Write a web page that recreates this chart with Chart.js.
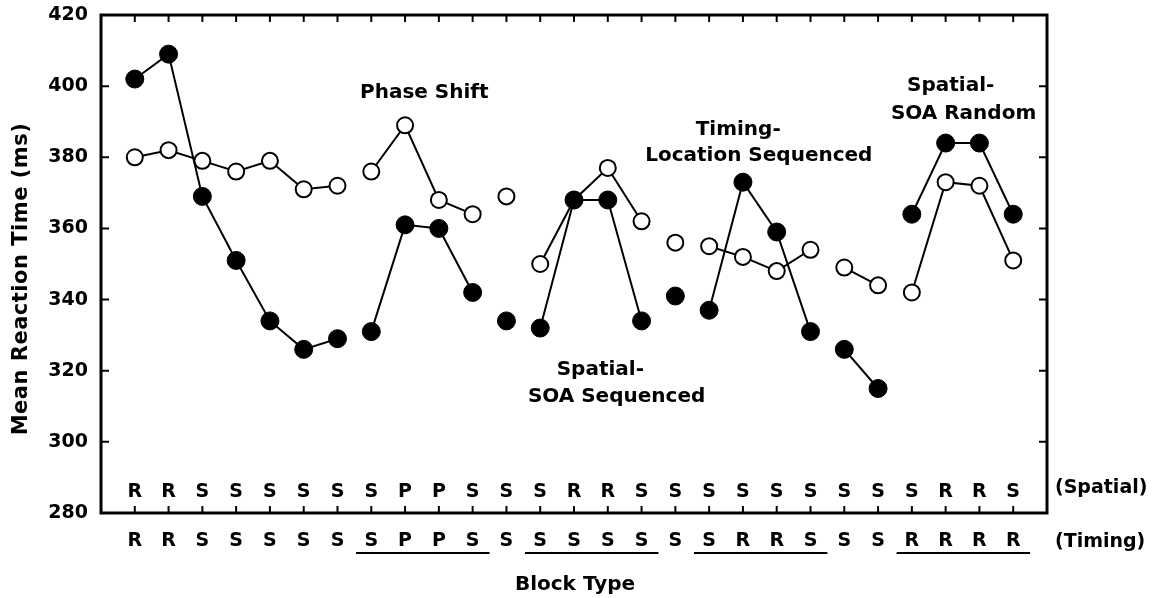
<!DOCTYPE html>
<html><head><meta charset="utf-8">
<script src="https://cdn.jsdelivr.net/npm/chart.js@4.4.1/dist/chart.umd.min.js"></script>
<style>html,body{margin:0;padding:0;background:#fff}#wrap{width:1153px;height:598px;position:relative}</style>
</head><body><div id="wrap"><canvas id="c"></canvas></div>
<script>
// ---- data ----
const blockIndex = [0,1,2,3,4,5,6,7,8,9,10,11,12,13,14,15,16,17,18,19,20,21,22,23,24,25,26];
const spatialLabels = ['R','R','S','S','S','S','S','S','P','P','S','S','S','R','R','S','S','S','S','S','S','S','S','S','R','R','S'];
const timingLabels  = ['R','R','S','S','S','S','S','S','P','P','S','S','S','S','S','S','S','S','R','R','S','S','S','R','R','R','R'];
const blockGroup    = [0,0,0,0,0,0,0,1,1,1,1,2,3,3,3,3,4,5,5,5,5,6,6,7,7,7,7];
const filledRT = [402,409,369,351,334,326,329,331,361,360,342,334,332,368,368,334,341,337,373,359,331,326,315,364,384,384,364];
const openRT   = [380,382,379,376,379,371,372,376,389,368,364,369,350,368,377,362,356,355,352,348,354,349,344,342,373,372,351];
const underlineGroups = [[7,10],[12,15],[17,20],[23,26]];
const annotationTexts = ['Phase Shift','Timing-','Location Sequenced','Spatial-','SOA Random','Spatial-','SOA Sequenced'];
const annotationX = [8.57, 17.86, 18.47, 24.15, 24.53, 13.78, 14.26];
const annotationY = [396.7, 386.3, 379.0, 398.6, 390.8, 318.8, 311.2];
const yTitle = 'Mean Reaction Time (ms)';
const xTitle = 'Block Type';
const rowNames = ['(Spatial)','(Timing)'];

const FONT = "'DejaVu Sans', sans-serif";
Chart.defaults.font.family = FONT;
Chart.defaults.color = '#000';

const segColor = ctx => blockGroup[ctx.p0DataIndex] === blockGroup[ctx.p1DataIndex] ? '#000' : 'rgba(0,0,0,0)';

const decor = {
  id: 'decor',
  afterDraw(chart) {
    const ctx = chart.ctx, a = chart.chartArea;
    const xs = chart.scales.x, ys = chart.scales.y;
    ctx.save();
    ctx.strokeStyle = '#000';
    // frame
    ctx.lineWidth = 3;
    ctx.strokeRect(a.left, a.top, a.right - a.left, a.bottom - a.top);
    // inward ticks
    ctx.lineWidth = 2;
    ctx.beginPath();
    blockIndex.forEach(i => {
      const px = xs.getPixelForValue(i);
      ctx.moveTo(px, a.top); ctx.lineTo(px, a.top + 7);
      ctx.moveTo(px, a.bottom); ctx.lineTo(px, a.bottom - 7);
    });
    ys.ticks.forEach(t => {
      if (t.value <= ys.min || t.value >= ys.max) return;
      const py = ys.getPixelForValue(t.value);
      ctx.moveTo(a.left, py); ctx.lineTo(a.left + 8, py);
      ctx.moveTo(a.right, py); ctx.lineTo(a.right - 8, py);
    });
    ctx.stroke();
    // spatial row labels inside plot
    ctx.fillStyle = '#000';
    ctx.font = 'bold 19px ' + FONT;
    ctx.textAlign = 'center';
    ctx.textBaseline = 'alphabetic';
    const yBase = ys.getPixelForValue(280);
    spatialLabels.forEach((s, i) => ctx.fillText(s, xs.getPixelForValue(i), yBase - 16));
    // row names
    ctx.textAlign = 'left';
    ctx.fillText(rowNames[0], a.right + 8, yBase - 20);
    ctx.fillText(rowNames[1], a.right + 8, yBase + 34);
    // underlines
    ctx.lineWidth = 2;
    ctx.beginPath();
    underlineGroups.forEach(([s, e]) => {
      ctx.moveTo(xs.getPixelForValue(s - 0.45), yBase + 40);
      ctx.lineTo(xs.getPixelForValue(e + 0.5), yBase + 40);
    });
    ctx.stroke();
    // annotations
    ctx.font = 'bold 20px ' + FONT;
    ctx.textAlign = 'center';
    annotationTexts.forEach((t, i) => ctx.fillText(t, xs.getPixelForValue(annotationX[i]), ys.getPixelForValue(annotationY[i])));
    // x title
    ctx.fillText(xTitle, (a.left + a.right) / 2 + 1, yBase + 77);
    // y title
    ctx.save();
    ctx.translate(22, 279);
    ctx.rotate(-Math.PI / 2);
    ctx.font = 'bold 21px ' + FONT;
    ctx.letterSpacing = '0.5px';
    ctx.textBaseline = 'middle';
    ctx.fillText(yTitle, 0, 0);
    ctx.restore();
    ctx.restore();
  }
};

new Chart(document.getElementById('c'), {
  type: 'line',
  data: {
    datasets: [
      {
        label: 'filled',
        data: filledRT.map((v, i) => ({x: blockIndex[i], y: v})),
        borderColor: '#000', borderWidth: 2,
        pointBackgroundColor: '#000', pointBorderColor: '#000',
        pointRadius: 9, pointBorderWidth: 1, pointHoverRadius: 9,
        segment: { borderColor: segColor },
        tension: 0, fill: false
      },
      {
        label: 'open',
        data: openRT.map((v, i) => ({x: blockIndex[i], y: v})),
        borderColor: '#000', borderWidth: 2,
        pointBackgroundColor: '#fff', pointBorderColor: '#000',
        pointRadius: 8, pointBorderWidth: 2, pointHoverRadius: 8,
        segment: { borderColor: segColor },
        tension: 0, fill: false
      }
    ]
  },
  options: {
    responsive: true, maintainAspectRatio: false, animation: false,
    layout: { autoPadding: false, padding: { top: 15, right: 106, left: 0, bottom: 0 } },
    plugins: { legend: { display: false }, tooltip: { enabled: false } },
    scales: {
      x: {
        type: 'linear', min: -1, max: 27,
        grid: { display: false, drawTicks: false }, border: { display: false },
        ticks: {
          stepSize: 1, autoSkip: false, maxRotation: 0, minRotation: 0, padding: 17,
          font: { size: 19, weight: 'bold' }, color: '#000',
          callback: v => (timingLabels[v] !== undefined ? timingLabels[v] : '')
        },
        afterFit: s => { s.height = 85; s.paddingLeft = 0; s.paddingRight = 0; }
      },
      y: {
        min: 280, max: 420,
        grid: { display: false, drawTicks: false }, border: { display: false },
        ticks: { stepSize: 20, padding: 13, font: { size: 19, weight: 'bold' }, color: '#000' },
        afterFit: s => { s.width = 101; s.paddingTop = 0; s.paddingBottom = 0; }
      }
    }
  },
  plugins: [decor]
});
</script>
</body></html>
